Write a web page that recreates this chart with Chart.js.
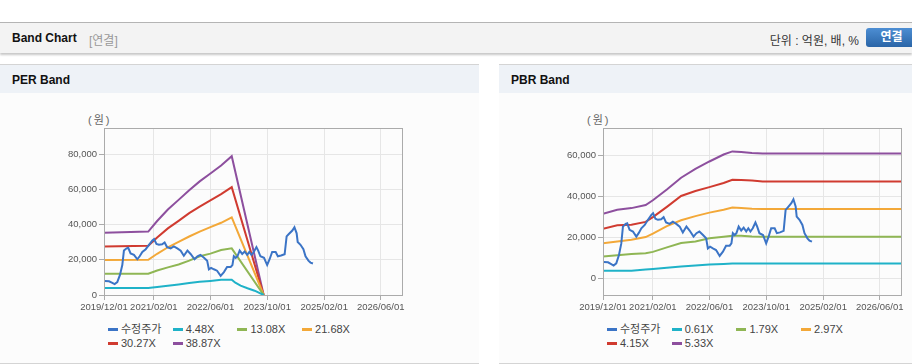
<!DOCTYPE html>
<html><head><meta charset="utf-8">
<script src="https://cdn.jsdelivr.net/npm/chart.js@4"></script>
<style>
html,body{margin:0;padding:0;background:#fff;width:912px;height:364px;overflow:hidden;font-family:"Liberation Sans",Arial,"Noto Sans CJK KR",sans-serif;}
.abs{position:absolute;}
#topbar{left:0;top:22px;width:912px;height:30px;background:#f3f3f3;border-top:1px solid #b4b4b4;box-shadow:0 2px 2px rgba(0,0,0,0.22);}
.panel{top:64px;height:298px;background:#fcfcfc;border-top:1px solid #d4d4d4;border-bottom:1px solid #d4d4d4;}
.phead{left:0;top:0;right:0;height:28px;background:#eef2f7;}
.ptitle{font-weight:bold;font-size:12px;color:#111;top:8px;}
.leg{font-size:11px;color:#444;white-space:nowrap;line-height:13px;}
.leg i{display:inline-block;width:10px;height:3px;vertical-align:middle;margin-right:3px;position:relative;top:-1px;}
.unit{font-size:11px;color:#666;letter-spacing:2px;}
</style></head>
<body>
<div id="topbar" class="abs">
  <div class="abs" style="left:12px;top:8px;font-size:12px;font-weight:bold;color:#111;">Band Chart</div>
  <div class="abs" style="left:89px;top:8px;font-size:12px;color:#999;">[연결]</div>
  <div class="abs" style="right:53px;top:8px;font-size:12px;color:#333;">단위 : 억원, 배, %</div>
  <div class="abs" style="left:866px;top:5px;width:51px;height:19px;border-radius:3px;background:linear-gradient(#4d8ed3,#2a65a7);color:#fff;font-weight:bold;font-size:12px;line-height:19px;text-align:center;">연결</div>
</div>
<div class="abs panel" style="left:0;width:479px;">
  <div class="abs phead"></div>
  <div class="abs ptitle" style="left:12px;">PER Band</div>
</div>
<div class="abs panel" style="left:499px;width:413px;">
  <div class="abs phead"></div>
  <div class="abs ptitle" style="left:12px;">PBR Band</div>
</div>
<div class="abs unit" style="left:88px;top:111px;">(원)</div>
<div class="abs unit" style="left:587px;top:111px;">(원)</div>
<canvas id="per" class="abs" style="left:0;top:93px;" width="479" height="230"></canvas>
<canvas id="pbr" class="abs" style="left:499px;top:93px;" width="413" height="230"></canvas>
<div id="perLeg"></div>
<div id="pbrLeg"></div>
<script>
// ---- data ----
const xTickDates = ["2019/12/01","2021/02/01","2022/06/01","2023/10/01","2025/02/01","2026/06/01"];
const xTickLabels = ["2019/12/01","2021/02/01","2022/06/01","2023/10/01","2025/02/01","2026/06/01"];
const xStart = "2019/12/01";
const xEnd = "2026/12/01";

const priceDates = ["2019/12/07","2020/01/13","2020/02/06","2020/03/01","2020/03/24","2020/04/16","2020/05/06","2020/05/20","2020/06/12","2020/06/26","2020/07/16","2020/08/14","2020/09/12","2020/10/02","2020/10/25","2020/11/23","2020/12/21","2021/01/19","2021/02/03","2021/02/23","2021/03/16","2021/04/13","2021/05/04","2021/05/25","2021/06/25","2021/07/22","2021/08/21","2021/09/19","2021/10/16","2021/11/16","2021/12/13","2022/01/16","2022/02/10","2022/03/07","2022/04/07","2022/05/04","2022/05/19","2022/06/07","2022/07/01","2022/07/28","2022/08/28","2022/09/25","2022/10/22","2022/11/22","2022/12/07","2022/12/19","2023/01/04","2023/01/19","2023/02/07","2023/03/01","2023/03/22","2023/04/13","2023/05/01","2023/05/19","2023/06/08","2023/07/01","2023/07/16","2023/08/04","2023/09/04","2023/10/01","2023/10/22","2023/11/13","2023/12/13","2024/01/01","2024/01/28","2024/02/28","2024/03/16","2024/04/04","2024/05/04","2024/05/22","2024/06/10","2024/06/19","2024/07/13","2024/08/07","2024/08/25","2024/09/19","2024/10/07","2024/10/28"];
const priceValues = [8000,7800,7000,6200,7300,11400,17000,25200,26500,26800,23600,22800,20300,22000,24400,26000,28500,30900,31700,29000,28500,28800,29800,27200,26500,27600,26500,25200,22300,25200,23300,20300,22000,22800,21100,19500,14600,15400,14600,13800,10900,13000,15900,15900,17000,22000,21100,22000,25200,23300,24700,22800,24400,22800,24400,27200,25200,22000,21100,17000,20300,24400,24400,22000,22400,23100,33300,34600,36600,38500,35000,30100,28500,26000,22000,19500,18400,17900];

const perDates = ["2019/12/01","2020/12/15","2021/03/01","2021/06/01","2021/09/01","2021/12/01","2022/03/01","2022/06/01","2022/09/01","2022/12/01","2023/01/01","2023/02/15","2023/04/15","2023/06/15","2023/09/01"];
const per448 = [4000,4000,4600,5300,6000,6800,7500,8000,8600,8700,7000,5300,3800,2450,0];
const per1308 = [12100,12100,13900,15700,17300,19500,22000,23500,25500,26500,null,null,null,null,0];
const per2168 = [19900,20000,23400,27100,30100,33200,36000,38500,41000,44100,null,null,null,null,0];
const per3027 = [27500,28000,32700,37800,42100,46500,50200,53700,57300,61200,null,null,null,null,0];
const per3887 = [35300,36000,42000,48500,54000,59500,64500,69000,73500,78800,null,null,null,null,0];
const perLabels = ["수정주가","4.48X","13.08X","21.68X","30.27X","38.87X"];
const perYTicks = [0,20000,40000,60000,80000];

const pbrDates = ["2019/12/01","2020/04/01","2020/08/01","2020/12/01","2021/02/01","2021/06/01","2021/10/01","2022/02/01","2022/06/01","2022/10/01","2022/12/15","2023/03/01","2023/06/01","2023/09/01","2026/12/01"];
const pbr061 = [3700,3700,3700,4300,4600,5200,5800,6300,6800,7000,7200,7200,7200,7200,7200];
const pbr179 = [10600,11300,11900,12200,12900,15100,17200,18000,19500,20300,20800,20800,20400,20300,20300];
const pbr297 = [17100,18000,18800,20100,21800,25400,28300,30300,32000,33400,34500,34300,33900,33800,33800];
const pbr415 = [24100,25800,26100,27500,29800,34800,40100,42500,44400,46400,48000,47900,47600,47200,47200];
const pbr533 = [31400,33400,34200,35700,38000,43300,49000,53300,56900,60300,61800,61500,61000,60800,60800];
const pbrLabels = ["수정주가","0.61X","1.79X","2.97X","4.15X","5.33X"];
const pbrYTicks = [0,20000,40000,60000];

const colors = ["#3b74c6","#1fb2c8","#8fb654","#f3a838","#d03b30","#8d4f9e"];

// ---- helpers ----
function toMs(s){const p=s.split("/").map(Number);return Date.UTC(p[0],p[1]-1,p[2]);}
function pts(dates, vals){return dates.map((d,i)=>({x:toMs(d), y:vals[i]}));}

const boxPlugin = {
  id:'box',
  afterDraw(chart){
    const a=chart.chartArea, c=chart.ctx;
    c.save(); c.strokeStyle='#ababab'; c.lineWidth=1;
    c.strokeRect(Math.round(a.left)+0.5, Math.round(a.top)+0.5, Math.round(a.right-a.left), Math.round(a.bottom-a.top));
    c.restore();
  }
};

function makeChart(id, datasets, yMin, yMax, yTicks, yWidth, padTop, padRight){
  return new Chart(document.getElementById(id), {
    type:'line',
    data:{datasets},
    plugins:[boxPlugin],
    options:{
      responsive:false, animation:false, devicePixelRatio:1,
      layout:{padding:{left:0,top:padTop,right:padRight,bottom:0}},
      plugins:{legend:{display:false}, tooltip:{enabled:false}},
      elements:{point:{radius:0}, line:{borderWidth:2, tension:0}},
      scales:{
        x:{type:'linear', min:toMs(xStart), max:toMs(xEnd),
           afterBuildTicks:s=>{s.ticks = xTickDates.map(d=>({value:toMs(d)}));},
           afterFit:s=>{s.height=28;},
           ticks:{callback:(v,i)=>xTickLabels[i], autoSkip:false, maxRotation:0, minRotation:0, padding:2,
                  color:'#555', font:{size:9.5, family:'"Liberation Sans", Arial'}},
           grid:{color:'#e6e6e6', tickColor:'#ababab', tickLength:5},
           border:{color:'#ababab'}},
        y:{min:yMin, max:yMax,
           afterBuildTicks:s=>{s.ticks = yTicks.map(v=>({value:v}));},
           afterFit:s=>{s.width=yWidth;},
           ticks:{callback:v=>v.toLocaleString('en-US'), padding:2, color:'#555',
                  font:{size:9.5, family:'"Liberation Sans", Arial'}},
           grid:{color:'#e6e6e6', tickColor:'#ababab', tickLength:5},
           border:{color:'#ababab'}}
      }
    }
  });
}

const perSeries=[per448,per1308,per2168,per3027,per3887];
const perDS=[{label:perLabels[0], data:pts(priceDates,priceValues), borderColor:colors[0]}]
  .concat(perSeries.map((v,i)=>({label:perLabels[i+1], data:pts(perDates,v), borderColor:colors[i+1], spanGaps:true})));
makeChart('per', perDS, 0, 94800, perYTicks, 104, 35, 77);

const pbrSeries=[pbr061,pbr179,pbr297,pbr415,pbr533];
const pbrDS=[{label:pbrLabels[0], data:pts(priceDates,priceValues), borderColor:colors[0]}]
  .concat(pbrSeries.map((v,i)=>({label:pbrLabels[i+1], data:pts(pbrDates,v), borderColor:colors[i+1]})));
makeChart('pbr', pbrDS, -8100, 73200, pbrYTicks, 104, 35, 11);

function legend(id, labels, x0){
  const el=document.getElementById(id);
  labels.forEach((t,i)=>{
    const col=i%4, row=Math.floor(i/4);
    const d=document.createElement('div');
    d.className='abs leg';
    d.style.left=(x0+col*64.7)+'px';
    d.style.top=(323+row*14)+'px';
    d.innerHTML='<i style="background:'+colors[i]+'"></i>'+t;
    el.appendChild(d);
  });
}
legend('perLeg', perLabels, 108);
legend('pbrLeg', pbrLabels, 607);
</script>
</body></html>
